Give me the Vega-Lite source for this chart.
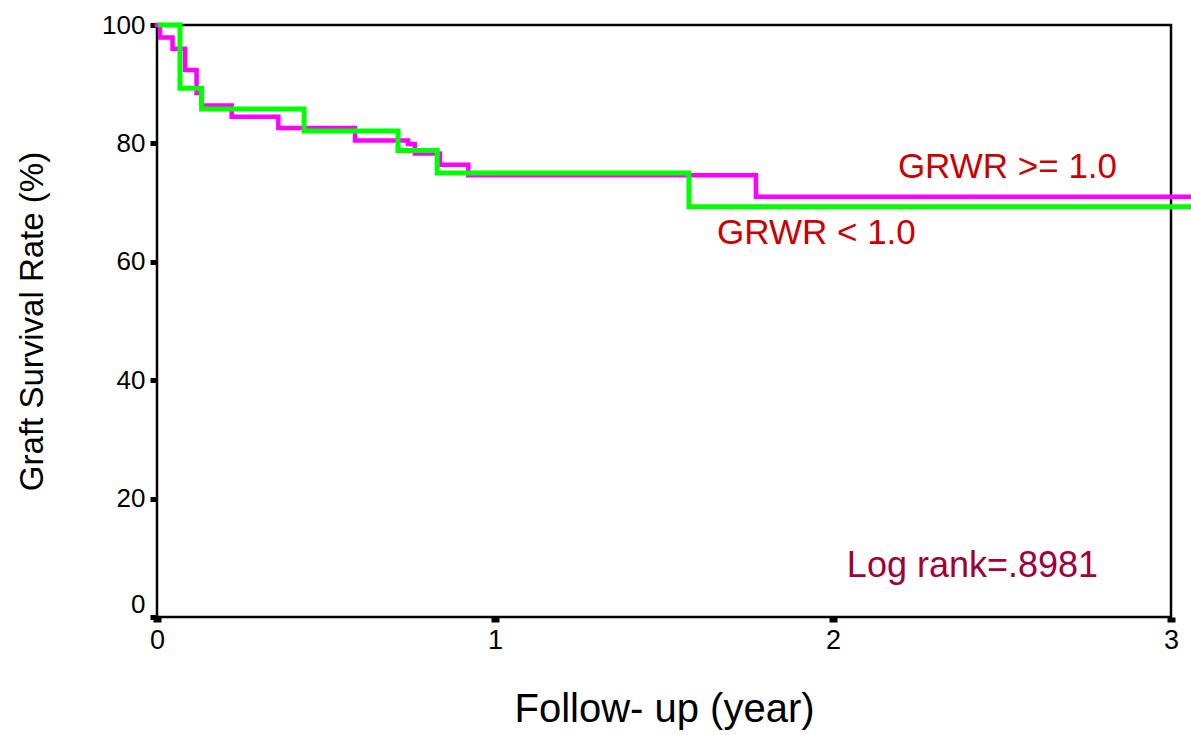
{
  "$schema": "https://vega.github.io/schema/vega-lite/v6.json",
  "width": 1014,
  "height": 592,
  "autosize": "none",
  "padding": {"left": 157, "top": 25, "right": 20, "bottom": 118},
  "background": "white",
  "config": {
    "view": {"stroke": "black", "strokeWidth": 2.5},
    "font": "Liberation Sans"
  },
  "datasets": {
    "curves": [
      {"group": "GRWR >= 1.0", "t": 0, "s": 100},
      {"group": "GRWR >= 1.0", "t": 0.009, "s": 97.9},
      {"group": "GRWR >= 1.0", "t": 0.046, "s": 96.0},
      {"group": "GRWR >= 1.0", "t": 0.083, "s": 92.4},
      {"group": "GRWR >= 1.0", "t": 0.117, "s": 88.5},
      {"group": "GRWR >= 1.0", "t": 0.132, "s": 86.4},
      {"group": "GRWR >= 1.0", "t": 0.221, "s": 84.5},
      {"group": "GRWR >= 1.0", "t": 0.359, "s": 82.6},
      {"group": "GRWR >= 1.0", "t": 0.586, "s": 80.5},
      {"group": "GRWR >= 1.0", "t": 0.743, "s": 79.9},
      {"group": "GRWR >= 1.0", "t": 0.763, "s": 78.3},
      {"group": "GRWR >= 1.0", "t": 0.837, "s": 76.4},
      {"group": "GRWR >= 1.0", "t": 0.921, "s": 74.6},
      {"group": "GRWR >= 1.0", "t": 1.772, "s": 71.0},
      {"group": "GRWR >= 1.0", "t": 3.06, "s": 71.0},
      {"group": "GRWR < 1.0", "t": 0.01, "s": 100},
      {"group": "GRWR < 1.0", "t": 0.068, "s": 89.3},
      {"group": "GRWR < 1.0", "t": 0.132, "s": 85.8},
      {"group": "GRWR < 1.0", "t": 0.435, "s": 82.1},
      {"group": "GRWR < 1.0", "t": 0.713, "s": 78.8},
      {"group": "GRWR < 1.0", "t": 0.829, "s": 75.0},
      {"group": "GRWR < 1.0", "t": 1.574, "s": 69.3},
      {"group": "GRWR < 1.0", "t": 3.06, "s": 69.3}
    ],
    "labels": [
      {"label": "GRWR >= 1.0", "t": 2.192, "s": 74.2},
      {"label": "GRWR < 1.0", "t": 1.657, "s": 63.0}
    ],
    "note": [
      {"label": "Log rank=.8981", "t": 2.041, "s": 6.8}
    ]
  },
  "layer": [
    {
      "data": {"name": "curves"},
      "transform": [{"filter": "datum.group === 'GRWR >= 1.0'"}],
      "mark": {"type": "line", "interpolate": "step-after", "color": "#ff00ff", "strokeWidth": 4.5, "strokeCap": "square"},
      "encoding": {
        "x": {
          "field": "t", "type": "quantitative",
          "scale": {"domain": [0, 3], "nice": false},
          "axis": {
            "title": "Follow- up (year)", "titleFontSize": 40, "titleFontWeight": "normal", "titleColor": "black",
            "titlePadding": 36, "values": [0, 1, 2, 3], "format": "d",
            "domain": false, "grid": false, "tickColor": "black", "tickSize": 5, "tickWidth": 8,
            "labelFontSize": 27, "labelColor": "black", "labelPadding": 5, "labelFlush": false, "labelOverlap": false
          }
        },
        "y": {
          "field": "s", "type": "quantitative",
          "scale": {"domain": [0, 100], "nice": false},
          "axis": {
            "title": "Graft Survival Rate (%)", "titleFontSize": 33, "titleFontWeight": "normal", "titleColor": "black",
            "titlePadding": 52, "values": [0, 20, 40, 60, 80, 100],
            "domain": false, "grid": false, "tickColor": "black", "tickSize": 7, "tickWidth": 5,
            "labelFontSize": 26, "labelColor": "black", "labelPadding": 5, "labelFlush": false, "labelOverlap": false,
            "labelOffset": {"expr": "datum.value === 0 ? -13 : 0"}
          }
        }
      }
    },
    {
      "data": {"name": "curves"},
      "transform": [{"filter": "datum.group === 'GRWR < 1.0'"}],
      "mark": {"type": "line", "interpolate": "step-after", "color": "#00ff00", "strokeWidth": 5, "strokeCap": "square"},
      "encoding": {
        "x": {"field": "t", "type": "quantitative"},
        "y": {"field": "s", "type": "quantitative"}
      }
    },
    {
      "data": {"name": "labels"},
      "mark": {"type": "text", "align": "left", "baseline": "alphabetic", "fontSize": 35, "color": "#cc0000"},
      "encoding": {
        "x": {"field": "t", "type": "quantitative"},
        "y": {"field": "s", "type": "quantitative"},
        "text": {"field": "label"}
      }
    },
    {
      "data": {"name": "note"},
      "mark": {"type": "text", "align": "left", "baseline": "alphabetic", "fontSize": 36, "color": "#a10038"},
      "encoding": {
        "x": {"field": "t", "type": "quantitative"},
        "y": {"field": "s", "type": "quantitative"},
        "text": {"field": "label"}
      }
    }
  ]
}
